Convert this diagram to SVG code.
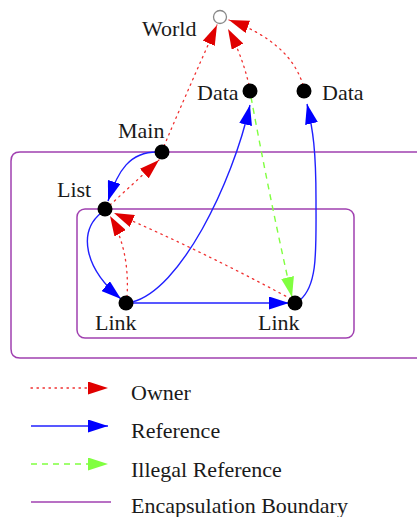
<svg xmlns="http://www.w3.org/2000/svg" width="417" height="517" viewBox="0 0 417 517">
<style>
text{font-family:"Liberation Serif","DejaVu Serif","Times New Roman",serif;font-size:22px;fill:#1a1a1a}
.own{fill:none;stroke:#f03030;stroke-width:1.3;stroke-dasharray:1.5 4.5;stroke-linecap:round}
.ref{fill:none;stroke:#2020ff;stroke-width:1.4}
.ill{fill:none;stroke:#80ff40;stroke-width:1.4;stroke-dasharray:6 5}
.enc{fill:none;stroke:#a040b0;stroke-width:1.5}
.node{fill:#000}
</style>
<defs>
<marker id="aown" markerUnits="userSpaceOnUse" markerWidth="20" markerHeight="13" refX="20" refY="6.5" orient="auto" viewBox="0 0 20 13"><path d="M0,0 L20,6.5 L0,13 z" fill="#e00000"/></marker>
<marker id="aref" markerUnits="userSpaceOnUse" markerWidth="20" markerHeight="13" refX="20" refY="6.5" orient="auto" viewBox="0 0 20 13"><path d="M0,0 L20,6.5 L0,13 z" fill="#0000ff"/></marker>
<marker id="aill" markerUnits="userSpaceOnUse" markerWidth="20" markerHeight="13" refX="20" refY="6.5" orient="auto" viewBox="0 0 20 13"><path d="M0,0 L20,6.5 L0,13 z" fill="#80ff40"/></marker>
</defs>
<g id="boundaries">
<path class="enc" d="M417,152 L20,152 Q11,152 11,161 L11,349 Q11,358 20,358 L417,358"/>
<rect class="enc" x="77" y="209" width="277" height="129" rx="8"/>
</g>
<g id="connectors">
<path class="own" d="M164,146 Q190,85 217,25" marker-end="url(#aown)"/>
<path class="own" d="M249,85 Q242,55 228,29" marker-end="url(#aown)"/>
<path class="own" d="M303,85 Q290,42 229,20" marker-end="url(#aown)"/>
<path class="own" d="M110,205 L159,160" marker-end="url(#aown)"/>
<path class="own" d="M127,297 Q130,250 110,216" marker-end="url(#aown)"/>
<path class="own" d="M291,299 Q200,250 114,213" marker-end="url(#aown)"/>
<path class="ref" d="M157,152 C130,152 118,170 108,201" marker-end="url(#aref)"/>
<path class="ref" d="M101,213 C78,232 84,268 121,299" marker-end="url(#aref)"/>
<path class="ref" d="M131,303 L289,303" marker-end="url(#aref)"/>
<path class="ref" d="M132,302 C180,290 232,185 250,105" marker-end="url(#aref)"/>
<path class="ref" d="M300,300 C318,285 316,250 316,200 C316,150 313,130 307,104" marker-end="url(#aref)"/>
<path class="ill" d="M251,97 Q270,200 292,297" marker-end="url(#aill)"/>
</g>
<g id="world"><circle cx="220" cy="17" r="6.5" fill="#fff" stroke="#888" stroke-width="1.3"/><text x="142" y="36">World</text></g>
<g id="data1"><circle class="node" cx="250" cy="91" r="7.5"/><text x="197" y="100">Data</text></g>
<g id="data2"><circle class="node" cx="304" cy="91" r="7.5"/><text x="322" y="100">Data</text></g>
<g id="main"><circle class="node" cx="162" cy="152" r="7.5"/><text x="118" y="138">Main</text></g>
<g id="list"><circle class="node" cx="105" cy="209" r="7.5"/><text x="57" y="197">List</text></g>
<g id="link1"><circle class="node" cx="126" cy="303" r="7.5"/><text x="95" y="330">Link</text></g>
<g id="link2"><circle class="node" cx="295" cy="303" r="7.5"/><text x="258" y="330">Link</text></g>
<g id="legend">
<path class="own" d="M31,388 L108,388" marker-end="url(#aown)"/>
<text x="131" y="400">Owner</text>
<path class="ref" d="M31,426 L108,426" marker-end="url(#aref)"/>
<text x="131" y="438">Reference</text>
<path class="ill" d="M31,464 L108,464" marker-end="url(#aill)"/>
<text x="131" y="477">Illegal Reference</text>
<path class="enc" d="M31,502 L111,502"/>
<text x="131" y="513">Encapsulation Boundary</text>
</g>
</svg>
